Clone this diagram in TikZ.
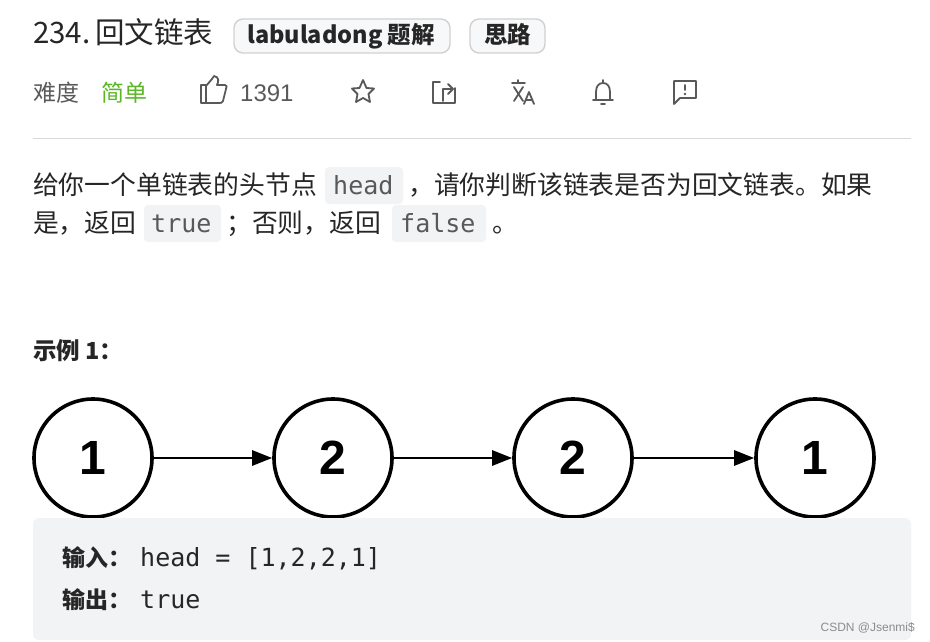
\documentclass[tikz,border=0pt]{standalone}
\usepackage{fontspec}
\setmainfont{Noto Sans CJK SC}
\newfontfamily\monof{DejaVu Sans Mono}
\newfontfamily\helv{Liberation Sans}
\usetikzlibrary{arrows.meta}
\definecolor{txt}{HTML}{262626}
\definecolor{sub}{HTML}{595959}
\definecolor{grn}{HTML}{5AB726}
\definecolor{chip}{HTML}{F2F3F5}
\definecolor{tagb}{HTML}{F7F8FA}
\tikzset{
 lab/.style={anchor=base west,inner sep=0pt,text=txt,font=\fontsize{25.8}{28}\selectfont},
 mono/.style={lab,font=\monof\fontsize{25}{28}\selectfont},
 tag/.style={draw=black!18,line width=1.4pt,fill=tagb,rounded corners=9pt},
 codechip/.style={fill=chip,rounded corners=4pt,inner sep=0pt},
 lnode/.style={circle,draw=black,line width=3.6pt,minimum size=118pt,inner sep=0pt,font=\helv\bfseries\fontsize{48}{50}\selectfont},
 arr/.style={-{Triangle[length=20pt,width=15pt]},line width=2.6pt},
 icon/.style={draw=sub,line width=1.8pt,line join=round,line cap=round}
}
\begin{document}
\begin{tikzpicture}[x=1pt,y=-1pt]
\useasboundingbox (0,0) rectangle (930,642);
\fill[white] (0,0) rectangle (930,642);
% title
\node[lab,font=\fontsize{29.5}{32}\selectfont] (title) at (33,44) {234.\,回文链表};
\draw[tag] (234,19) rectangle (450,53);
\node[lab,font=\bfseries\fontsize{23.5}{26}\selectfont] (t1) at (247,44) {labuladong 题解};
\draw[tag] (470,19) rectangle (545,53);
\node[lab,font=\bfseries\fontsize{23.5}{26}\selectfont] (t2) at (484,44) {思路};
% row 2
\node[lab,text=sub,font=\fontsize{23}{26}\selectfont] (nd) at (33,102) {难度};
\node[lab,text=grn,font=\fontsize{23}{26}\selectfont] (jd) at (101,102) {简单};
\node[lab,text=sub,font=\helv\fontsize{24}{26}\selectfont] (cnt) at (240,102) {1391};
% thumb
\draw[icon] (201,85) rectangle (206,103);
\draw[icon] (206,86) -- (212,79) -- (214,76) .. controls (219,77) and (219,81) .. (217,85) -- (225,85) .. controls (227,85) and (227,87) .. (226,89) -- (223,101) .. controls (222,103) and (221,103) .. (219,103) -- (206,103);
% star
\draw[icon] (363,80) -- (366.5,88) -- (374,88.5) -- (368.5,94) -- (370,102) -- (363,98) -- (356,102) -- (357.5,94) -- (352,88.5) -- (359.5,88) -- cycle;
% share
\draw[icon] (440,82) -- (433,82) -- (433,103) -- (455,103) -- (455,88);
\draw[icon] (443,101) -- (443,89) -- (453,89);
\draw[icon] (448,84) -- (453,89) -- (448,94);
% translate
\draw[icon] (512,83) -- (525,83);
\draw[icon] (518,80) -- (518,83);
\draw[icon] (514,87) -- (523,101);
\draw[icon] (523,87) -- (514,101);
\draw[icon] (524,104) -- (529,92) -- (534,104);
\draw[icon] (526,100) -- (532,100);
% bell
\draw[icon] (596,100) -- (596,92) .. controls (596,86) and (599,83) .. (603,83) .. controls (607,83) and (610,86) .. (610,92) -- (610,100);
\draw[icon] (593,100) -- (613,100);
\draw[icon] (601,104) -- (605,104);
\draw[icon] (603,80) -- (603,83);
% comment
\draw[icon] (674,81) -- (696,81) -- (696,98) -- (680,98) -- (674,104) -- cycle;
\draw[icon] (685,85) -- (685,90);
\fill[sub] (685,94) circle (1.4);
% rule
\draw[black!15,line width=1pt] (33,138) -- (911,138);
% paragraph
\fill[codechip] (325,167) rectangle (403,204);
\fill[codechip] (144,205) rectangle (221,242);
\fill[codechip] (392,205) rectangle (486,242);
\node[lab] (p1a) at (33,194) {给你一个单链表的头节点};
\node[mono,text=sub] (c1) at (333,194) {head};
\node[lab] (p1b) at (408,194) {，请你判断该链表是否为回文链表。如果};
\node[lab] (p2a) at (33,232) {是，返回};
\node[mono,text=sub] (c2) at (151,232) {true};
\node[lab] (p2b) at (226,232) {；否则，返回};
\node[mono,text=sub] (c3) at (400,232) {false};
\node[lab] (p2c) at (492,232) {。};
\node[lab,font=\bfseries\fontsize{23.5}{26}\selectfont] (ex) at (33,359) {示例 1：};
% list
\node[lnode] (n1) at (93,458) {1};
\node[lnode] (n2) at (333,458) {2};
\node[lnode] (n3) at (573,458) {2};
\node[lnode] (n4) at (815,458) {1};
\draw[arr] (n1) -- (n2);
\draw[arr] (n2) -- (n3);
\draw[arr] (n3) -- (n4);
% example box
\fill[chip,rounded corners=6pt] (33,518) rectangle (911,640);
\node[lab,font=\bfseries\fontsize{23}{26}\selectfont] (in) at (62,566) {输入：};
\node[mono] (inv) at (140,566) {head = [1,2,2,1]};
\node[lab,font=\bfseries\fontsize{23}{26}\selectfont] (out) at (62,608) {输出：};
\node[mono] (outv) at (140,608) {true};
\node[anchor=base east,inner sep=0pt,text=black!45,font=\helv\fontsize{12}{14}\selectfont] (wm) at (915,631) {CSDN @Jsenmi\$};
\end{tikzpicture}
\end{document}
